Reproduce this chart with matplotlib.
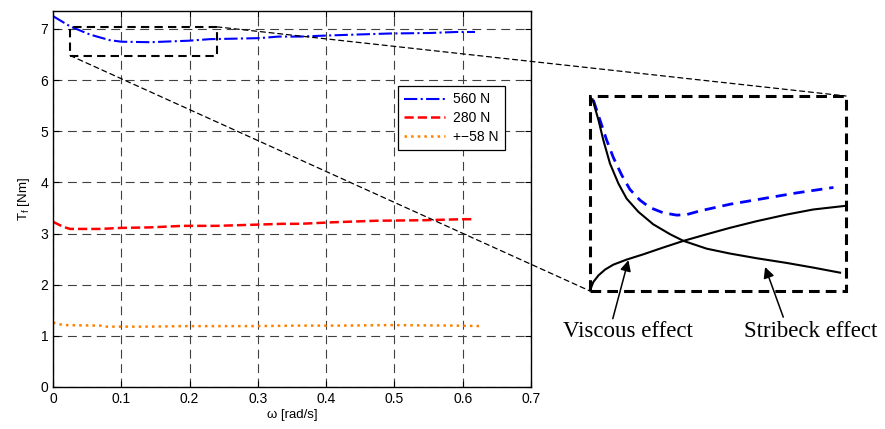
import matplotlib
matplotlib.use("Agg")
import matplotlib.pyplot as plt
from matplotlib.patches import Rectangle, ConnectionPatch

plt.rcParams['font.family'] = ['Liberation Sans', 'DejaVu Sans']
plt.rcParams['mathtext.default'] = 'regular'

# measured friction torque vs. angular speed
w_560 = [0.0, 0.025, 0.054, 0.083, 0.1, 0.142, 0.2, 0.23, 0.269, 0.303, 0.33, 0.362,
         0.4, 0.445, 0.493, 0.552, 0.591, 0.618]
t_560 = [7.25, 7.05, 6.89, 6.78, 6.75, 6.74, 6.77, 6.80, 6.81, 6.82, 6.85, 6.85,
         6.87, 6.89, 6.91, 6.92, 6.94, 6.94]

w_280 = [0.0, 0.015, 0.025, 0.069, 0.1, 0.142, 0.19, 0.24, 0.289, 0.337, 0.362,
         0.41, 0.474, 0.542, 0.6, 0.618]
t_280 = [3.23, 3.13, 3.09, 3.09, 3.11, 3.12, 3.15, 3.15, 3.17, 3.19, 3.19,
         3.22, 3.25, 3.26, 3.28, 3.28]

w_58 = [0.0, 0.015, 0.069, 0.076, 0.142, 0.19, 0.289, 0.362, 0.42, 0.493, 0.59, 0.63]
t_58 = [1.26, 1.21, 1.20, 1.18, 1.18, 1.19, 1.19, 1.20, 1.20, 1.21, 1.20, 1.19]

labels = ['560 N', '280 N', '+\u221258 N']

# zoomed region of the 560 N curve
zoom_x = (0.025, 0.24)
zoom_y = (6.48, 7.04)

# schematic decomposition shown in the zoom box (normalised box coords)
total_u = [0.013, 0.039, 0.065, 0.091, 0.124, 0.156, 0.195, 0.234, 0.286, 0.339,
           0.378, 0.430, 0.547, 0.677, 0.807, 0.951]
total_v = [0.979, 0.877, 0.774, 0.685, 0.594, 0.521, 0.466, 0.428, 0.401, 0.389,
           0.392, 0.411, 0.445, 0.474, 0.503, 0.531]

strib_u = [0.010, 0.033, 0.052, 0.078, 0.111, 0.143, 0.189, 0.247, 0.313, 0.365,
           0.456, 0.547, 0.651, 0.768, 0.872, 0.977]
strib_v = [0.983, 0.877, 0.774, 0.654, 0.551, 0.474, 0.406, 0.342, 0.291, 0.257,
           0.217, 0.192, 0.168, 0.144, 0.120, 0.094]

visc_u = [0.0, 0.013, 0.033, 0.059, 0.091, 0.143, 0.208, 0.286, 0.365, 0.456,
          0.547, 0.651, 0.768, 0.872, 1.0]
visc_v = [0.003, 0.046, 0.080, 0.110, 0.135, 0.161, 0.188, 0.223, 0.257, 0.291,
          0.324, 0.358, 0.392, 0.418, 0.437]

fig = plt.figure(figsize=(8.85, 4.29), dpi=100)
W, H = 885, 429
ax = fig.add_axes([53 / W, 1 - 387 / H, 478 / W, 376 / H])

ax.plot(w_560, t_560, color='blue', linestyle='-.', lw=1.5, label=labels[0])
ax.plot(w_280, t_280, color='red', linestyle='--', lw=1.8, label=labels[1])
ax.plot(w_58, t_58, color='#ff8000', linestyle=':', lw=1.8, label=labels[2])

ax.set_xlim(0, 0.7)
ax.set_ylim(0, 7.35)
ax.set_xticks([0, 0.1, 0.2, 0.3, 0.4, 0.5, 0.6, 0.7])
ax.set_xticklabels(['0', '0.1', '0.2', '0.3', '0.4', '0.5', '0.6', '0.7'])
ax.set_yticks(range(8))
ax.tick_params(direction='in', top=True, right=True, labelsize=10, length=4, width=0.8)
ax.grid(True, color='0.25', linestyle=(0, (8, 5)), lw=0.8)
for s in ax.spines.values():
    s.set_linewidth(1.0)
ax.set_xlabel('\u03c9 [rad/s]', fontsize=9.5, labelpad=2)
ax.set_ylabel('T$_f$ [Nm]', fontsize=9.5, labelpad=6)

leg = ax.legend(loc='upper left', bbox_to_anchor=(0.722, 0.80), fontsize=10,
                fancybox=False, framealpha=1, edgecolor='black', handlelength=2.9,
                borderpad=0.45, labelspacing=0.35, handletextpad=0.6, borderaxespad=0)
leg.get_frame().set_linewidth(0.9)

ax.add_patch(Rectangle((zoom_x[0], zoom_y[0]), zoom_x[1] - zoom_x[0], zoom_y[1] - zoom_y[0],
                       fill=False, ec='black', lw=1.5, linestyle=(0, (4, 2.5)), zorder=5))

# zoom box on the right
axz = fig.add_axes([590 / W, 1 - 291 / H, 256 / W, 195 / H])
axz.set_xlim(0, 1)
axz.set_ylim(0, 1)
axz.axis('off')
axz.add_patch(Rectangle((0, 0), 1, 1, fill=False, ec='black', lw=2.2,
                        linestyle=(0, (3.5, 2)), clip_on=False))
axz.plot(total_u, total_v, color='blue', linestyle=(0, (4, 2.5)), lw=2.0, clip_on=False)
axz.plot(strib_u, strib_v, color='black', lw=1.5, clip_on=False)
axz.plot(visc_u, visc_v, color='black', lw=1.5, clip_on=False)

arrow = dict(arrowstyle='-|>', color='black', lw=1.1, mutation_scale=16, shrinkA=0, shrinkB=0)
axz.annotate('', xy=(0.150, 0.158), xytext=(0.089, -0.142), arrowprops=arrow,
             annotation_clip=False)
axz.annotate('', xy=(0.684, 0.123), xytext=(0.755, -0.134), arrowprops=arrow,
             annotation_clip=False)
axz.text(0.148, -0.21, 'Viscous effect', ha='center', va='center', fontsize=16.5,
         family='Liberation Serif', clip_on=False)
axz.text(0.863, -0.21, 'Stribeck effect', ha='center', va='center', fontsize=16.5,
         family='Liberation Serif', clip_on=False)

# guide lines from the small box to the zoom box
for pa, pb in [((zoom_x[1], zoom_y[1]), (1, 1)), ((zoom_x[0], zoom_y[0]), (0, 0))]:
    con = ConnectionPatch(xyA=pa, coordsA=ax.transData, xyB=pb, coordsB=axz.transData,
                          color='black', lw=0.9, linestyle=(0, (4, 3)))
    fig.add_artist(con)

fig.savefig('out.png', dpi=100)
